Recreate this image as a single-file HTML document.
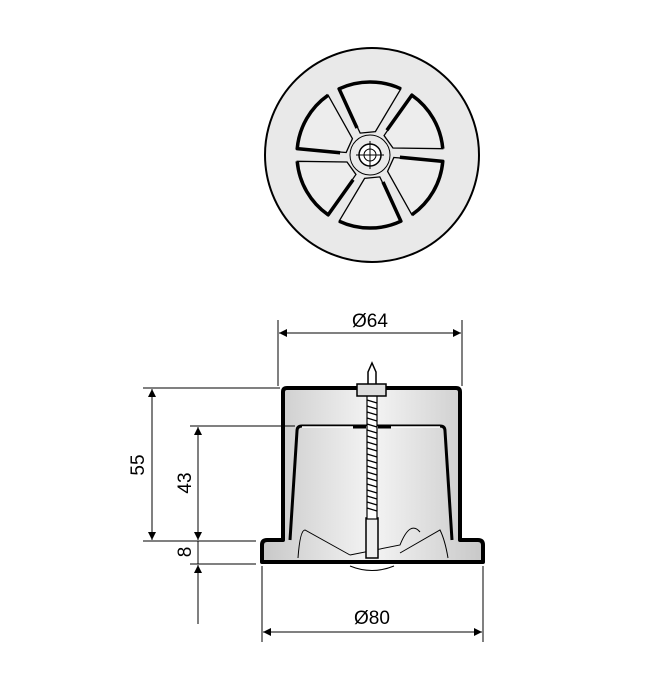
<!DOCTYPE html>
<html><head><meta charset="utf-8"><style>html,body{margin:0;padding:0;background:#fff}svg{display:block}</style></head>
<body>
<svg width="660" height="691" viewBox="0 0 660 691" xmlns="http://www.w3.org/2000/svg" font-family="Liberation Sans, sans-serif">
<defs>
<linearGradient id="g" x1="0" x2="1" y1="0" y2="0">
<stop offset="0" stop-color="#c8c8c8"/><stop offset="0.5" stop-color="#f4f4f4"/><stop offset="1" stop-color="#c8c8c8"/>
</linearGradient>
<marker id="a" viewBox="0 0 10 10" refX="10" refY="5" markerWidth="14" markerHeight="8" markerUnits="userSpaceOnUse" orient="auto-start-reverse"><path d="M0,0L10,5L0,10z" fill="#000"/></marker>
</defs>
<!-- top view -->
<circle cx="372" cy="155" r="107" fill="#e9e9e9" stroke="#000" stroke-width="2"/>
<g fill="#ededed" stroke="#000" stroke-width="1.3">
<path id="s" d="M360.2 133.1 L339.1 88.8 A73 73 0 0 1 400.9 88.8 L375.4 131.6 Z"/>
<use href="#s" transform="rotate(60 370 155)"/>
<use href="#s" transform="rotate(120 370 155)"/>
<use href="#s" transform="rotate(180 370 155)"/>
<use href="#s" transform="rotate(240 370 155)"/>
<use href="#s" transform="rotate(300 370 155)"/>
</g>
<g fill="none" stroke="#000" stroke-width="3.5" stroke-linejoin="round">
<path id="o" d="M357 128 L339.1 88.8 A73 73 0 0 1 400.9 88.8"/>
<use href="#o" transform="rotate(60 370 155)"/>
<use href="#o" transform="rotate(120 370 155)"/>
<use href="#o" transform="rotate(180 370 155)"/>
<use href="#o" transform="rotate(240 370 155)"/>
<use href="#o" transform="rotate(300 370 155)"/>
</g>
<circle cx="370" cy="155" r="20" fill="#e9e9e9" stroke="#000" stroke-width="1"/>
<circle cx="370" cy="155" r="11" fill="#fff" stroke="#000" stroke-width="1.5"/>
<circle cx="370" cy="155" r="6" fill="none" stroke="#000" stroke-width="1"/>
<path d="M356 155H384M370 141V169" stroke="#000" stroke-width="1"/>

<!-- side view body -->
<path d="M283 392 Q283 388 287 388 L456 388 Q460 388 460 392 L460 540 L478 540 Q483 540 483 545 L483 562 L262 562 L262 545 Q262 540 267 540 L283 540 Z" fill="url(#g)" stroke="#000" stroke-width="4" stroke-linejoin="round"/>
<path d="M290 540 L297 431 Q297 426 302 426 L440 426 Q445 426 445 431 L452 540" fill="none" stroke="#000" stroke-width="3"/>
<path d="M302 427H440" stroke="#fff" stroke-width="1.5"/>
<path d="M353 427H366M378 427H391" stroke="#000" stroke-width="3"/>
<!-- lower blades -->
<g fill="none" stroke="#000" stroke-width="1">
<path d="M298 558 Q300 530 305 530 L350 555"/>
<path d="M350 555 L400 545 Q410 520 420 532"/>
<path d="M400 553 L440 530 Q445 540 448 558"/>
<path d="M350 566 Q372 575 394 566"/>
</g>
<!-- screw -->
<rect x="366" y="518" width="12" height="40" fill="#eee" stroke="#000" stroke-width="1.5"/>
<rect x="367" y="395" width="10" height="124" fill="#fff" stroke="#000" stroke-width="1.2"/>
<path d="M367 400 L377 403 M367 406 L377 409 M367 412 L377 415 M367 418 L377 421 M367 424 L377 427 M367 430 L377 433 M367 436 L377 439 M367 442 L377 445 M367 448 L377 451 M367 454 L377 457 M367 460 L377 463 M367 466 L377 469 M367 472 L377 475 M367 478 L377 481 M367 484 L377 487 M367 490 L377 493 M367 496 L377 499 M367 502 L377 505 M367 508 L377 511" stroke="#000" stroke-width="1.2"/>
<path d="M368 384 L368 372 L372 363 L376 372 L376 384" fill="#fff" stroke="#000" stroke-width="1.5"/>
<rect x="357" y="384" width="29" height="12" fill="#ddd" stroke="#000" stroke-width="1.5"/>

<!-- dimensions -->
<g stroke="#000" stroke-width="1" fill="none">
<path d="M278 320V386M462 320V386M262 566V642M483 566V642"/>
<path d="M143 388H280M190 426H295M143 541H256M190 564H256"/>
<path d="M279 333H461" marker-start="url(#a)" marker-end="url(#a)"/>
<path d="M263 632H482" marker-start="url(#a)" marker-end="url(#a)"/>
<path d="M152 389V540" marker-start="url(#a)" marker-end="url(#a)"/>
<path d="M198 427V540" marker-start="url(#a)" marker-end="url(#a)"/>
<path d="M198 541V564"/>
<path d="M198 624V565" marker-end="url(#a)"/>
</g>
<g font-size="19" fill="#000" text-anchor="middle">
<text x="370" y="327">Ø64</text>
<text x="372" y="624">Ø80</text>
<text transform="translate(144 465) rotate(-90)">55</text>
<text transform="translate(191 483) rotate(-90)">43</text>
<text transform="translate(191 552) rotate(-90)">8</text>
</g>
</svg>
</body></html>
